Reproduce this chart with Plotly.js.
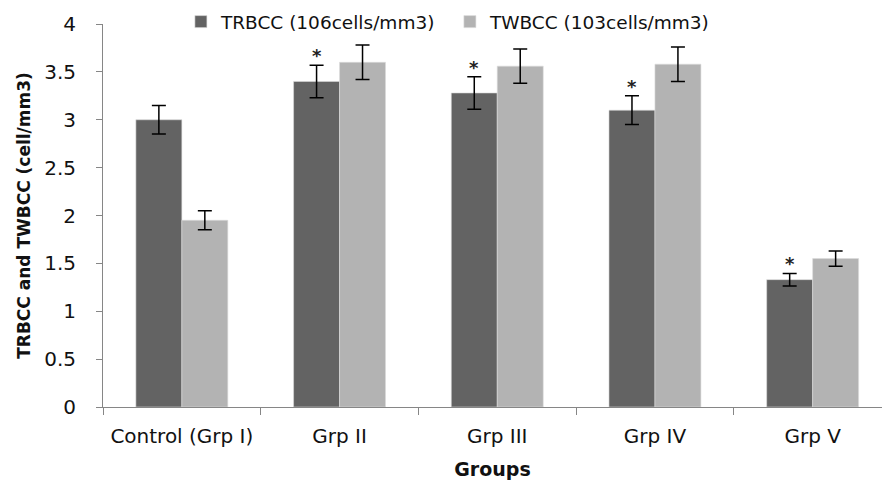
<!DOCTYPE html>
<html>
<head>
<meta charset="utf-8">
<script src="https://cdn.plot.ly/plotly-3.0.1.min.js"></script>
<style>html,body{margin:0;padding:0;background:#fff;}#chart{width:882px;height:480px;}</style>
</head>
<body>
<div id="chart"></div>
<script>
const categories = ["Control (Grp I)", "Grp II", "Grp III", "Grp IV", "Grp V"];
const trbcc = [3.0, 3.4, 3.28, 3.1, 1.33];
const trbccErr = [0.15, 0.17, 0.17, 0.15, 0.065];
const twbcc = [1.95, 3.6, 3.56, 3.58, 1.55];
const twbccErr = [0.1, 0.18, 0.18, 0.18, 0.08];
const significant = [false, true, true, true, true];
const seriesNames = ["TRBCC (106cells/mm3)", "TWBCC (103cells/mm3)"];

const FONT = "'DejaVu Sans', sans-serif";
const xIdx = categories.map((c, i) => i);
const XRANGE = [-0.5, -0.5 + 779 / 157.7];

const traces = [
  {
    type: "bar", name: seriesNames[0], x: xIdx, y: trbcc,
    marker: {color: "#636363", line: {color: "#dcdcdc", width: 0.6}},
    error_y: {type: "data", array: trbccErr, visible: true, color: "#000", thickness: 1.5, width: 7}
  },
  {
    type: "bar", name: seriesNames[1], x: xIdx, y: twbcc,
    marker: {color: "#b3b3b3", line: {color: "#dcdcdc", width: 0.6}},
    error_y: {type: "data", array: twbccErr, visible: true, color: "#000", thickness: 1.5, width: 7}
  },
  {type: "scatter", x: [0], y: [0], xaxis: "x2", yaxis: "y", mode: "markers",
    marker: {opacity: 0}, showlegend: false, hoverinfo: "skip"}
];

const annotations = [];
significant.forEach((s, i) => {
  if (s) annotations.push({
    x: i, y: trbcc[i] + trbccErr[i], xref: "x", yref: "y",
    text: "<b>*</b>", showarrow: false, xshift: -23, yanchor: "bottom", yshift: -3,
    font: {family: FONT, size: 18, color: "#222"}
  });
});

const layout = {
  width: 882, height: 480,
  margin: {l: 103, r: 0, t: 24, b: 73, autoexpand: false},
  paper_bgcolor: "#fff", plot_bgcolor: "#fff",
  barmode: "group", bargap: 0.417, bargroupgap: 0,
  showlegend: true,
  legend: {orientation: "h", x: 0.1, xanchor: "left", y: 1.005, yanchor: "middle",
    font: {family: FONT, size: 18.5, color: "#111"}, traceorder: "normal",
    bgcolor: "rgba(0,0,0,0)", itemwidth: 30, entrywidth: 224},
  xaxis: {
    range: XRANGE,
    tickmode: "array", tickvals: xIdx, ticktext: categories,
    showgrid: false, zeroline: false,
    showline: true, linecolor: "#868686", linewidth: 1,
    ticks: "", ticklabelstandoff: 11,
    tickfont: {family: FONT, size: 20, color: "#111"},
    title: {text: "<b>Groups</b>", font: {family: FONT, size: 19, color: "#111"}, standoff: 18}
  },
  xaxis2: {
    overlaying: "x", range: XRANGE,
    tickmode: "array", tickvals: xIdx.concat([categories.length]).map(v => v - 0.5),
    ticktext: xIdx.concat([categories.length]).map(() => ""),
    ticks: "outside", ticklen: 7, tickcolor: "#868686", showgrid: false, zeroline: false,
    showline: false, anchor: "y", side: "bottom"
  },
  yaxis: {
    range: [0, 4], dtick: 0.5, tick0: 0,
    showgrid: false, zeroline: false,
    showline: true, linecolor: "#868686", linewidth: 1,
    ticks: "outside", ticklen: 6, tickcolor: "#868686", ticklabelstandoff: 16,
    tickfont: {family: FONT, size: 20, color: "#111"},
    title: {text: "<b>TRBCC and TWBCC (cell/mm3)</b>", font: {family: FONT, size: 17, color: "#111"}, standoff: 9}
  },
  annotations: annotations
};

Plotly.newPlot("chart", traces, layout, {displayModeBar: false, staticPlot: true});
</script>
</body>
</html>
